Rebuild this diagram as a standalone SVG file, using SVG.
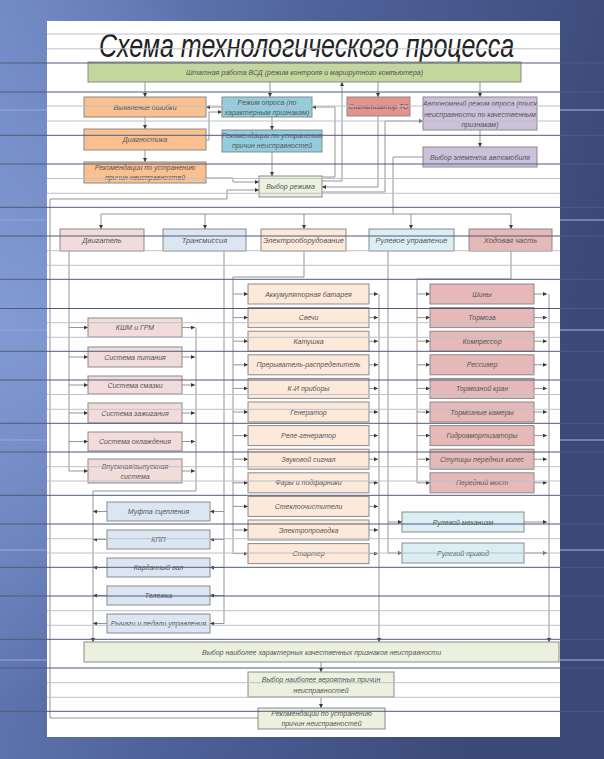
<svg xmlns="http://www.w3.org/2000/svg" width="604" height="759" viewBox="0 0 604 759">
<defs>
<linearGradient id="bg" x1="0" y1="0" x2="1" y2="0.3">
<stop offset="0" stop-color="#6f87c3"/>
<stop offset="0.5" stop-color="#4f629a"/>
<stop offset="1" stop-color="#3b4978"/>
</linearGradient>
<radialGradient id="glow" cx="0.02" cy="0.42" r="0.5">
<stop offset="0" stop-color="#8aa2dc" stop-opacity="0.8"/>
<stop offset="1" stop-color="#8aa2dc" stop-opacity="0"/>
</radialGradient>
<marker id="a" viewBox="0 0 6 6" refX="6" refY="3" markerWidth="4" markerHeight="4" orient="auto" markerUnits="userSpaceOnUse">
<path d="M0,0L6,3L0,6z" fill="#3a3a3a"/>
</marker>
<style>
.c{fill:none;stroke:#959595;stroke-width:1}
.ca{fill:none;stroke:#959595;stroke-width:1;marker-end:url(#a)}
.t{font-family:"Liberation Sans",Arial,sans-serif;font-style:italic;font-size:7px;fill:#555;text-anchor:middle}
.tc{font-size:7.5px}
.bx{stroke:#8a8a8a;stroke-width:1}
.gr{fill:#c3d69b}
.or{fill:#fac090}
.cy{fill:#93cddd}
.rd{fill:#e4928e}
.pu{fill:#ccc1da}
.lg{fill:#ebf1de}
.pk{fill:#f2dcdb}
.bl{fill:#dce6f2}
.pe{fill:#fde9d9}
.lc{fill:#dbeef4}
.dr{fill:#e6b9b8}
.ld{stroke:#505b7a;stroke-width:1}
.ll{stroke:#bcc0ca;stroke-width:1}
.tl{stroke:#93a6d6;stroke-width:1.5;stroke-opacity:0.8}
</style>
</defs>

<g id="background">
<rect x="0" y="0" width="604" height="759" fill="url(#bg)"/>
<rect x="0" y="0" width="604" height="759" fill="url(#glow)"/>
<line class="tl" x1="0" y1="110" x2="604" y2="110"/>
<line class="tl" x1="0" y1="220" x2="604" y2="220"/>
<line class="tl" x1="0" y1="330" x2="604" y2="330"/>
<line class="tl" x1="0" y1="440" x2="604" y2="440"/>
<line class="tl" x1="0" y1="550" x2="604" y2="550"/>
<line class="tl" x1="0" y1="660" x2="604" y2="660"/>
<rect x="47" y="21" width="513" height="716" fill="#ffffff"/>
</g>

<g id="title">
<text transform="translate(306.5,57) scale(0.735,1)" x="0" y="0" font-family="Liberation Sans, Arial, sans-serif" font-style="italic" font-size="34" fill="#222" text-anchor="middle">Схема технологического процесса</text>
</g>

<g id="connectors">
<path class="ca" d="M145,82V97"/>
<path class="ca" d="M270,82V97"/>
<path class="ca" d="M378,82V97"/>
<path class="ca" d="M480,82V97"/>
<path class="ca" d="M322,181H342V82"/>
<path class="ca" d="M322,177H335V107H312"/>
<path class="ca" d="M378,116V187H322"/>
<path class="ca" d="M322,192H385V121H423"/>
<path class="ca" d="M480,130V147"/>
<path class="c" d="M423,157H393V214"/>
<path class="c" d="M101,214H511"/>
<path class="ca" d="M101,214V229"/>
<path class="ca" d="M205,214V229"/>
<path class="ca" d="M304,214V229"/>
<path class="ca" d="M411,214V229"/>
<path class="ca" d="M511,214V229"/>
<path class="ca" d="M145,117V129"/>
<path class="ca" d="M145,150V162"/>
<path class="ca" d="M222,107H206"/>
<path class="ca" d="M206,140H209V112H222"/>
<path class="ca" d="M272,117V130"/>
<path class="ca" d="M272,152V176"/>
<path class="ca" d="M206,178H233V182H259"/>
<path class="ca" d="M258,718H50V199H227V190H259"/>
<path class="c" d="M69,251V471"/>
<path class="ca" d="M69,327.5H88"/>
<path class="ca" d="M69,357H88"/>
<path class="ca" d="M69,385H88"/>
<path class="ca" d="M69,413H88"/>
<path class="ca" d="M69,441.5H88"/>
<path class="ca" d="M69,471H88"/>
<path class="ca" d="M182,327.5H195"/>
<path class="ca" d="M182,357H195"/>
<path class="ca" d="M182,385H195"/>
<path class="ca" d="M182,413H195"/>
<path class="ca" d="M182,441.5H195"/>
<path class="ca" d="M182,471H195"/>
<path class="c" d="M196,327.5V491H93"/>
<path class="ca" d="M93,491V642"/>
<path class="c" d="M224,251V623.5"/>
<path class="ca" d="M224,511.5H210"/>
<path class="ca" d="M224,539.5H210"/>
<path class="ca" d="M224,567.5H210"/>
<path class="ca" d="M224,595.5H210"/>
<path class="ca" d="M224,623.5H210"/>
<path class="ca" d="M107,511.5H93"/>
<path class="ca" d="M107,539.5H93"/>
<path class="ca" d="M107,567.5H93"/>
<path class="ca" d="M107,595.5H93"/>
<path class="ca" d="M107,623.5H93"/>
<path class="c" d="M304,251V277H233V553.6"/>
<path class="ca" d="M233,294H248"/>
<path class="ca" d="M233,317.6H248"/>
<path class="ca" d="M233,341.2H248"/>
<path class="ca" d="M233,364.8H248"/>
<path class="ca" d="M233,388.4H248"/>
<path class="ca" d="M233,412H248"/>
<path class="ca" d="M233,435.6H248"/>
<path class="ca" d="M233,459.2H248"/>
<path class="ca" d="M233,482.8H248"/>
<path class="ca" d="M233,506.4H248"/>
<path class="ca" d="M233,530H248"/>
<path class="ca" d="M233,553.6H248"/>
<path class="ca" d="M369,294H378"/>
<path class="ca" d="M369,317.6H378"/>
<path class="ca" d="M369,341.2H378"/>
<path class="ca" d="M369,364.8H378"/>
<path class="ca" d="M369,388.4H378"/>
<path class="ca" d="M369,412H378"/>
<path class="ca" d="M369,435.6H378"/>
<path class="ca" d="M369,459.2H378"/>
<path class="ca" d="M369,482.8H378"/>
<path class="ca" d="M369,506.4H378"/>
<path class="ca" d="M369,530H378"/>
<path class="ca" d="M369,553.6H378"/>
<path class="ca" d="M379,294V642"/>
<path class="c" d="M388,251V553"/>
<path class="ca" d="M388,522H402"/>
<path class="ca" d="M388,553H402"/>
<path class="ca" d="M524,522H547"/>
<path class="ca" d="M524,553H547"/>
<path class="c" d="M511,251V279H417V482.8"/>
<path class="ca" d="M417,294H430"/>
<path class="ca" d="M417,317.6H430"/>
<path class="ca" d="M417,341.2H430"/>
<path class="ca" d="M417,364.8H430"/>
<path class="ca" d="M417,388.4H430"/>
<path class="ca" d="M417,412H430"/>
<path class="ca" d="M417,435.6H430"/>
<path class="ca" d="M417,459.2H430"/>
<path class="ca" d="M417,482.8H430"/>
<path class="ca" d="M534,294H547"/>
<path class="ca" d="M534,317.6H547"/>
<path class="ca" d="M534,341.2H547"/>
<path class="ca" d="M534,364.8H547"/>
<path class="ca" d="M534,388.4H547"/>
<path class="ca" d="M534,412H547"/>
<path class="ca" d="M534,435.6H547"/>
<path class="ca" d="M534,459.2H547"/>
<path class="ca" d="M534,482.8H547"/>
<path class="ca" d="M549,294V642"/>
<path class="ca" d="M321,662V672"/>
<path class="ca" d="M321,697V708"/>
</g>

<g id="n-main"><rect class="bx gr" x="88" y="62" width="433" height="20"/><text class="t" x="304.5" y="74.5">Штатная работа ВСД (режим контроля и маршрутного компьютера)</text></g>
<g id="n-error"><rect class="bx or" x="84" y="97" width="122" height="20"/><text class="t" x="145" y="109.5">Выявление ошибки</text></g>
<g id="n-poll"><rect class="bx cy" x="222" y="97" width="90" height="20"/><text class="t" x="267" y="104.5">Режим опроса (по</text><text class="t" x="267" y="114.5">характерным признакам)</text></g>
<g id="n-signal"><rect class="bx rd" x="347" y="97" width="63" height="19"/><text class="t" x="378.5" y="109">Сигнализатор ТО</text></g>
<g id="n-auto"><rect class="bx pu" x="423" y="97" width="114" height="33"/><text class="t" x="480" y="105.5">Автономный режим опроса (поиск</text><text class="t" x="480" y="116.5">неисправности по качественным</text><text class="t" x="480" y="127">признакам)</text></g>
<g id="n-diag"><rect class="bx or" x="84" y="129" width="122" height="21"/><text class="t" x="145" y="142">Диагностика</text></g>
<g id="n-rec1"><rect class="bx cy" x="222" y="130" width="100" height="22"/><text class="t" x="272" y="137.5">Рекомендации по устранению</text><text class="t" x="272" y="147.5">причин неисправностей</text></g>
<g id="n-elem"><rect class="bx pu" x="423" y="147" width="114" height="20"/><text class="t" x="480" y="159.5">Выбор элемента автомобиля</text></g>
<g id="n-rec2"><rect class="bx or" x="84" y="162" width="122" height="21"/><text class="t" x="145" y="169.5">Рекомендации по устранению</text><text class="t" x="145" y="179.5">причин неисправностей</text></g>
<g id="n-mode"><rect class="bx lg" x="259" y="176" width="63" height="21"/><text class="t" x="290.5" y="189">Выбор режима</text></g>

<g id="n-engine"><rect class="bx pk" x="60" y="229" width="84" height="22"/><text class="t tc" x="102" y="242.5">Двигатель</text></g>
<g id="n-trans"><rect class="bx bl" x="163" y="229" width="83" height="22"/><text class="t tc" x="204.5" y="242.5">Трансмиссия</text></g>
<g id="n-elec"><rect class="bx pe" x="261" y="229" width="85" height="22"/><text class="t tc" x="303.5" y="242.5">Электрооборудование</text></g>
<g id="n-steer"><rect class="bx lc" x="369" y="229" width="85" height="22"/><text class="t tc" x="411.5" y="242.5">Рулевое управление</text></g>
<g id="n-chassis"><rect class="bx dr" x="469" y="229" width="83" height="22"/><text class="t tc" x="510.5" y="242.5">Ходовая часть</text></g>

<g id="n-e1"><rect class="bx pk" x="88" y="318" width="94" height="19"/><text class="t" x="135" y="330">КШМ и ГРМ</text></g>
<g id="n-e2"><rect class="bx pk" x="88" y="347" width="94" height="20"/><text class="t" x="135" y="359.5">Система питания</text></g>
<g id="n-e3"><rect class="bx pk" x="88" y="376" width="94" height="18"/><text class="t" x="135" y="387.5">Система смазки</text></g>
<g id="n-e4"><rect class="bx pk" x="88" y="403" width="94" height="20"/><text class="t" x="135" y="415.5">Система зажигания</text></g>
<g id="n-e5"><rect class="bx pk" x="88" y="432" width="94" height="19"/><text class="t" x="135" y="444">Система охлаждения</text></g>
<g id="n-e6"><rect class="bx pk" x="88" y="459" width="94" height="24"/><text class="t" x="135" y="468.5">Впускная/выпускная</text><text class="t" x="135" y="478.5">система</text></g>

<g id="n-t1"><rect class="bx bl" x="107" y="502" width="103" height="19"/><text class="t" x="158.5" y="514">Муфта сцепления</text></g>
<g id="n-t2"><rect class="bx bl" x="107" y="530" width="103" height="19"/><text class="t" x="158.5" y="542">КПП</text></g>
<g id="n-t3"><rect class="bx bl" x="107" y="558" width="103" height="19"/><text class="t" x="158.5" y="570">Карданный вал</text></g>
<g id="n-t4"><rect class="bx bl" x="107" y="586" width="103" height="19"/><text class="t" x="158.5" y="598">Тележка</text></g>
<g id="n-t5"><rect class="bx bl" x="107" y="614" width="103" height="19"/><text class="t" x="158.5" y="626">Рычаги и педали управления</text></g>

<g id="n-el1"><rect class="bx pe" x="248" y="284" width="121" height="20"/><text class="t" x="308.5" y="296.5">Аккумуляторная батарея</text></g>
<g id="n-el2"><rect class="bx pe" x="248" y="307.6" width="121" height="20"/><text class="t" x="308.5" y="320.1">Свечи</text></g>
<g id="n-el3"><rect class="bx pe" x="248" y="331.2" width="121" height="20"/><text class="t" x="308.5" y="343.7">Катушка</text></g>
<g id="n-el4"><rect class="bx pe" x="248" y="354.8" width="121" height="20"/><text class="t" x="308.5" y="367.3">Прерыватель-распределитель</text></g>
<g id="n-el5"><rect class="bx pe" x="248" y="378.4" width="121" height="20"/><text class="t" x="308.5" y="390.9">К-И приборы</text></g>
<g id="n-el6"><rect class="bx pe" x="248" y="402" width="121" height="20"/><text class="t" x="308.5" y="414.5">Генератор</text></g>
<g id="n-el7"><rect class="bx pe" x="248" y="425.6" width="121" height="20"/><text class="t" x="308.5" y="438.1">Реле-генератор</text></g>
<g id="n-el8"><rect class="bx pe" x="248" y="449.2" width="121" height="20"/><text class="t" x="308.5" y="461.7">Звуковой сигнал</text></g>
<g id="n-el9"><rect class="bx pe" x="248" y="472.8" width="121" height="20"/><text class="t" x="308.5" y="485.3">Фары и подфарники</text></g>
<g id="n-el10"><rect class="bx pe" x="248" y="496.4" width="121" height="20"/><text class="t" x="308.5" y="508.9">Стеклоочистители</text></g>
<g id="n-el11"><rect class="bx pe" x="248" y="520" width="121" height="20"/><text class="t" x="308.5" y="532.5">Электропроводка</text></g>
<g id="n-el12"><rect class="bx pe" x="248" y="543.6" width="121" height="20"/><text class="t" x="308.5" y="556.1">Стартер</text></g>

<g id="n-s1"><rect class="bx lc" x="402" y="512" width="122" height="20"/><text class="t" x="463" y="524.5">Рулевой механизм</text></g>
<g id="n-s2"><rect class="bx lc" x="402" y="543" width="122" height="20"/><text class="t" x="463" y="555.5">Рулевой привод</text></g>

<g id="n-c1"><rect class="bx dr" x="430" y="284" width="104" height="20"/><text class="t" x="482" y="296.5">Шины</text></g>
<g id="n-c2"><rect class="bx dr" x="430" y="307.6" width="104" height="20"/><text class="t" x="482" y="320.1">Тормоза</text></g>
<g id="n-c3"><rect class="bx dr" x="430" y="331.2" width="104" height="20"/><text class="t" x="482" y="343.7">Компрессор</text></g>
<g id="n-c4"><rect class="bx dr" x="430" y="354.8" width="104" height="20"/><text class="t" x="482" y="367.3">Рессивер</text></g>
<g id="n-c5"><rect class="bx dr" x="430" y="378.4" width="104" height="20"/><text class="t" x="482" y="390.9">Тормозной кран</text></g>
<g id="n-c6"><rect class="bx dr" x="430" y="402" width="104" height="20"/><text class="t" x="482" y="414.5">Тормозные камеры</text></g>
<g id="n-c7"><rect class="bx dr" x="430" y="425.6" width="104" height="20"/><text class="t" x="482" y="438.1">Гидроамортизаторы</text></g>
<g id="n-c8"><rect class="bx dr" x="430" y="449.2" width="104" height="20"/><text class="t" x="482" y="461.7">Ступицы передних колес</text></g>
<g id="n-c9"><rect class="bx dr" x="430" y="472.8" width="104" height="20"/><text class="t" x="482" y="485.3">Передний мост</text></g>

<g id="n-b1"><rect class="bx lg" x="84" y="642" width="475" height="20"/><text class="t" x="321.5" y="654.5">Выбор наиболее характерных качественных признаков неисправности</text></g>
<g id="n-b2"><rect class="bx lg" x="248" y="672" width="146" height="25"/><text class="t" x="321" y="682">Выбор наиболее вероятных причин</text><text class="t" x="321" y="692.5">неисправностей</text></g>
<g id="n-b3"><rect class="bx lg" x="258" y="708" width="127" height="21"/><text class="t" x="321.5" y="716">Рекомендации по устранению</text><text class="t" x="321.5" y="726">причин неисправностей</text></g>

<g id="ruling">
<g class="ll">
<line x1="47" y1="34" x2="560" y2="34"/><line x1="47" y1="48.8" x2="560" y2="48.8"/>
<line x1="47" y1="106" x2="560" y2="106"/><line x1="47" y1="121" x2="560" y2="121"/>
<line x1="47" y1="178.5" x2="560" y2="178.5"/><line x1="47" y1="193.3" x2="560" y2="193.3"/>
<line x1="47" y1="250.7" x2="560" y2="250.7"/><line x1="47" y1="265.3" x2="560" y2="265.3"/>
<line x1="47" y1="322.7" x2="560" y2="322.7"/><line x1="47" y1="337.3" x2="560" y2="337.3"/>
<line x1="47" y1="394.5" x2="560" y2="394.5"/><line x1="47" y1="409.3" x2="560" y2="409.3"/>
<line x1="47" y1="466.7" x2="560" y2="466.7"/><line x1="47" y1="481" x2="560" y2="481"/>
<line x1="47" y1="538.7" x2="560" y2="538.7"/><line x1="47" y1="553" x2="560" y2="553"/>
<line x1="47" y1="610.7" x2="560" y2="610.7"/><line x1="47" y1="625.3" x2="560" y2="625.3"/>
<line x1="47" y1="682.7" x2="560" y2="682.7"/><line x1="47" y1="697.3" x2="560" y2="697.3"/>
</g>
<g class="ld">
<line x1="0" y1="63" x2="604" y2="63"/><line x1="0" y1="92" x2="604" y2="92"/>
<line x1="0" y1="135.3" x2="604" y2="135.3"/><line x1="0" y1="164" x2="604" y2="164"/>
<line x1="0" y1="207.3" x2="604" y2="207.3"/><line x1="0" y1="236" x2="604" y2="236"/>
<line x1="0" y1="279.3" x2="604" y2="279.3"/><line x1="0" y1="308.5" x2="604" y2="308.5"/>
<line x1="0" y1="351.3" x2="604" y2="351.3"/><line x1="0" y1="380" x2="604" y2="380"/>
<line x1="0" y1="423.3" x2="604" y2="423.3"/><line x1="0" y1="452" x2="604" y2="452"/>
<line x1="0" y1="495.3" x2="604" y2="495.3"/><line x1="0" y1="524" x2="604" y2="524"/>
<line x1="0" y1="567.3" x2="604" y2="567.3"/><line x1="0" y1="596" x2="604" y2="596"/>
<line x1="0" y1="639.3" x2="604" y2="639.3"/><line x1="0" y1="668" x2="604" y2="668"/>
<line x1="0" y1="711.3" x2="604" y2="711.3"/>
</g>
</g>
</svg>
